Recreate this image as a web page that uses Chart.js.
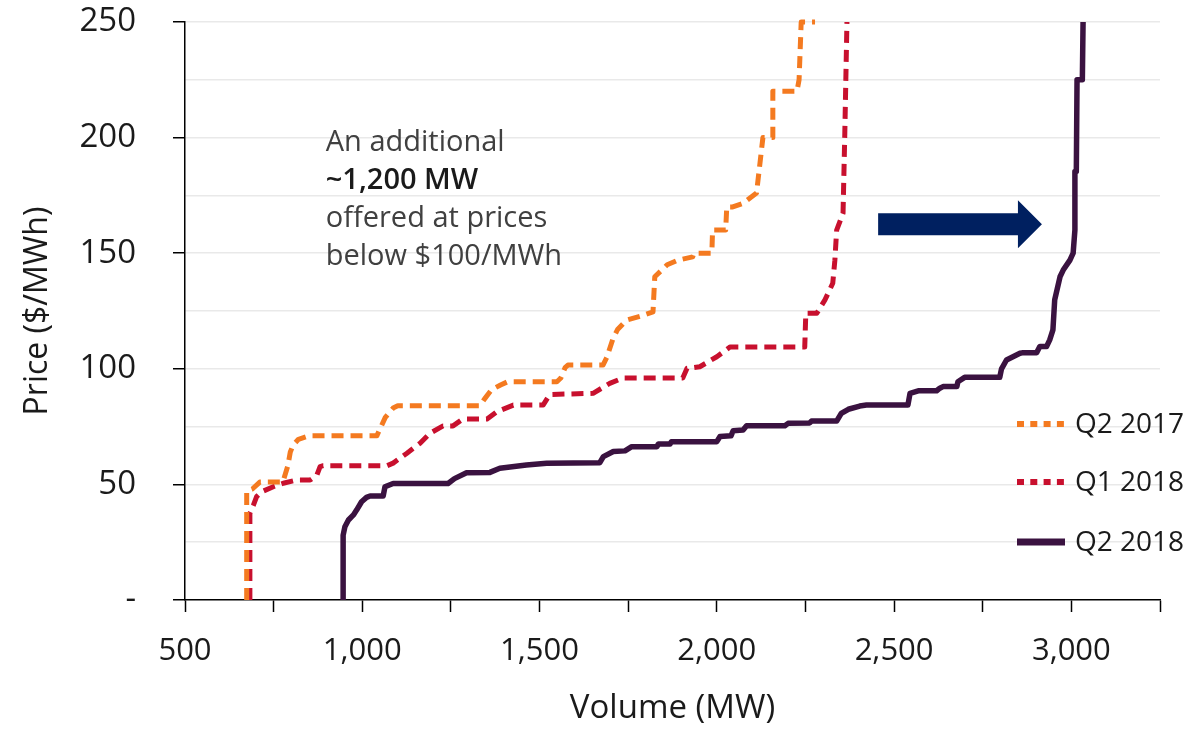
<!DOCTYPE html>
<html>
<head>
<meta charset="utf-8">
<script src="https://cdn.jsdelivr.net/npm/chart.js@4"></script>
<style>
  html, body { margin: 0; padding: 0; background: #fff; }
  canvas { display: block; }
</style>
</head>
<body>
<canvas id="offerChart" width="1203" height="729"></canvas>
<script>
// series labels
const seriesNames = ["Q2 2017", "Q1 2018", "Q2 2018"];

// Q2 2017 offer curve
const q2_2017_mw = [674, 674, 690, 711, 776, 790, 797, 805, 820, 850, 1041, 1050, 1065, 1087, 1100, 1332, 1345, 1365, 1390, 1410, 1549, 1560, 1572, 1580, 1679, 1690, 1707, 1720, 1745, 1790, 1820, 1825, 1860, 1890, 1932, 1935, 1986, 1988, 2025, 2028, 2045, 2074, 2112, 2130, 2158, 2158, 2226, 2232, 2238, 2277];
const q2_2017_price = [0, 47, 48, 51, 51, 58, 64, 67, 69.5, 71, 71, 74, 79, 83, 84, 84, 87, 91, 93, 94.4, 94.4, 96, 100.5, 101.6, 101.6, 105, 113, 117, 121, 123, 124.6, 139.8, 145, 147, 148.4, 150, 150, 160, 160, 170, 170, 171.6, 176, 200, 200, 220, 220, 225, 250, 250];

// Q1 2018 offer curve
const q1_2018_mw = [683, 683, 693, 702, 716, 749, 777, 815, 853, 872, 881, 890, 1070, 1087, 1125, 1163, 1191, 1228, 1256, 1284, 1352, 1379, 1426, 1510, 1529, 1651, 1698, 1735, 1904, 1916, 1952, 2000, 2037, 2248, 2251, 2282, 2305, 2327, 2333, 2338, 2356, 2361, 2367];
const q1_2018_price = [0, 37.5, 41, 44.7, 46.8, 49, 50.5, 51.9, 51.9, 54, 57.7, 58.1, 58.1, 59.2, 63.4, 67.8, 72.1, 75.3, 75.3, 78.3, 78.3, 81.4, 84.3, 84.3, 88.9, 89.4, 93.7, 96, 96, 100.2, 100.9, 105.2, 109.4, 109.4, 124, 124, 129.8, 137, 147, 160, 167.3, 202, 250];

// Q2 2018 offer curve
const q2_2018_mw = [946, 946, 951, 961, 975, 984, 998, 1012, 1022, 1059, 1064, 1087, 1242, 1260, 1294, 1360, 1388, 1463, 1520, 1670, 1680, 1708, 1741, 1760, 1831, 1835, 1868, 1872, 2000, 2009, 2040, 2046, 2074, 2084, 2192, 2201, 2262, 2267, 2338, 2351, 2371, 2403, 2422, 2539, 2545, 2568, 2620, 2629, 2638, 2677, 2680, 2699, 2798, 2803, 2817, 2855, 2861, 2902, 2911, 2930, 2939, 2948, 2953, 2968, 2977, 2996, 3005, 3010, 3010, 3014, 3016, 3031, 3033];
const q2_2018_price = [0, 28, 31.7, 34.6, 36.8, 38.9, 42.5, 44.4, 45, 45, 49, 50.4, 50.4, 52.5, 55, 55.2, 57, 58.4, 59.1, 59.4, 62, 64.2, 64.5, 66.3, 66.3, 67.5, 67.5, 68.5, 68.5, 70.7, 71, 73.2, 73.5, 75.4, 75.4, 76.4, 76.6, 77.4, 77.4, 80.7, 82.5, 83.9, 84.3, 84.3, 89.4, 90.5, 90.5, 91.6, 92.3, 92.3, 94.4, 96.3, 96.3, 100, 103.8, 106.7, 106.9, 106.9, 109.6, 109.6, 112.5, 116.8, 129.8, 139.8, 142.7, 147, 150, 160, 185.3, 185.3, 225, 225, 250];

// axis ranges / ticks
const volumeMin = 500, volumeMax = 3250, volumeStep = 250, volumeLabelStep = 500;
const priceMin = 0, priceMax = 250, priceStep = 25, priceLabelStep = 50;

// annotation
const noteLines = ["An additional", "~1,200 MW", "offered at prices", "below $100/MWh"];
const noteBoldLine = 1;
const noteAt = { mw: 897, price: 194 };
const arrowSpan = { fromMw: 2455, toMw: 2917, price: 162.5 };

const COLORS = ["#F47A20", "#C8102E", "#3A1240"];
const FONT = "'Open Sans', 'Noto Sans', sans-serif";

function toPoints(xs, ys) {
    return xs.map((x, i) => ({ x: x, y: ys[i] }));
}

const dashedStyle = {
    borderWidth: 5,
    borderDash: [12, 7],
    borderCapStyle: "butt",
    borderJoinStyle: "round",
    pointRadius: 0,
    tension: 0,
    fill: false,
    clip: 8
};

// text + arrow inside the plot
const notePlugin = {
    id: "notePlugin",
    afterDatasetsDraw(chart) {
        const { ctx, scales: { x, y } } = chart;
        ctx.save();

        // arrow
        const x0 = x.getPixelForValue(arrowSpan.fromMw);
        const x1 = x.getPixelForValue(arrowSpan.toMw);
        const yc = y.getPixelForValue(arrowSpan.price);
        const headLen = 24, bodyHalf = 11, headHalf = 24;
        ctx.fillStyle = "#002060";
        ctx.beginPath();
        ctx.moveTo(x0, yc - bodyHalf);
        ctx.lineTo(x1 - headLen, yc - bodyHalf);
        ctx.lineTo(x1 - headLen, yc - headHalf);
        ctx.lineTo(x1, yc);
        ctx.lineTo(x1 - headLen, yc + headHalf);
        ctx.lineTo(x1 - headLen, yc + bodyHalf);
        ctx.lineTo(x0, yc + bodyHalf);
        ctx.closePath();
        ctx.fill();

        // text block
        const tx = x.getPixelForValue(noteAt.mw);
        let ty = y.getPixelForValue(noteAt.price);
        ctx.textAlign = "left";
        ctx.textBaseline = "alphabetic";
        noteLines.forEach((line, i) => {
            if (i === noteBoldLine) {
                ctx.font = "600 29px " + FONT;
                ctx.fillStyle = "#1a1a1a";
            } else {
                ctx.font = "29px " + FONT;
                ctx.fillStyle = "#404040";
            }
            ctx.fillText(line, tx, ty);
            ty += 38;
        });
        ctx.restore();
    }
};

// legend drawn by hand (dotted samples like the original)
const legendPlugin = {
    id: "legendPlugin",
    afterDraw(chart) {
        const { ctx, chartArea } = chart;
        const sx = chartArea.right - 143;
        const rows = [chartArea.bottom - 176, chartArea.bottom - 118, chartArea.bottom - 58];
        ctx.save();
        chart.data.datasets.forEach((ds, i) => {
            const ry = rows[i];
            ctx.strokeStyle = ds.borderColor;
            ctx.lineCap = "butt";
            if (ds.borderDash && ds.borderDash.length) {
                ctx.lineWidth = 6;
                ctx.setLineDash([7, 6.3]);
            } else {
                ctx.lineWidth = 7;
                ctx.setLineDash([]);
            }
            ctx.beginPath();
            ctx.moveTo(sx, ry);
            ctx.lineTo(sx + 48, ry);
            ctx.stroke();
            ctx.setLineDash([]);
            ctx.fillStyle = "#1a1a1a";
            ctx.font = "28px " + FONT;
            ctx.textAlign = "left";
            ctx.textBaseline = "middle";
            ctx.fillText(ds.label, sx + 58, ry + 1);
        });
        ctx.restore();
    }
};

new Chart(document.getElementById("offerChart"), {
    type: "line",
    data: {
        datasets: [
            Object.assign({ label: seriesNames[0], data: toPoints(q2_2017_mw, q2_2017_price), borderColor: COLORS[0] }, dashedStyle),
            Object.assign({ label: seriesNames[1], data: toPoints(q1_2018_mw, q1_2018_price), borderColor: COLORS[1] }, dashedStyle),
            {
                label: seriesNames[2],
                data: toPoints(q2_2018_mw, q2_2018_price),
                borderColor: COLORS[2],
                borderWidth: 5.5,
                borderJoinStyle: "round",
                pointRadius: 0,
                tension: 0,
                fill: false,
                clip: 8
            }
        ]
    },
    options: {
        responsive: false,
        animation: false,
        devicePixelRatio: 1,
        layout: { padding: { top: 22, right: 43, left: 0, bottom: 0 } },
        plugins: {
            legend: { display: false },
            tooltip: { enabled: false }
        },
        scales: {
            x: {
                type: "linear",
                min: volumeMin,
                max: volumeMax,
                afterFit: (scale) => {
                    scale.height = 129;
                    scale.paddingLeft = 0;
                    scale.paddingRight = 0;
                },
                border: { display: true, color: "#000", width: 1.5 },
                grid: {
                    drawOnChartArea: false,
                    drawTicks: true,
                    tickLength: 12,
                    tickColor: "#000",
                    tickWidth: 1.5
                },
                ticks: {
                    stepSize: volumeStep,
                    autoSkip: false,
                    maxRotation: 0,
                    padding: 21,
                    color: "#1a1a1a",
                    font: { family: FONT, size: 31 },
                    callback: (v) => (v % volumeLabelStep === 0 ? v.toLocaleString("en-US") : "")
                },
                title: {
                    display: true,
                    text: "Volume (MW)",
                    color: "#1a1a1a",
                    font: { family: FONT, size: 33 },
                    padding: { top: 0, bottom: 1 }
                }
            },
            y: {
                min: priceMin,
                max: priceMax,
                afterFit: (scale) => {
                    scale.width = 185;
                    scale.paddingTop = 0;
                    scale.paddingBottom = 0;
                },
                border: { display: true, color: "#000", width: 1.5 },
                grid: {
                    color: (c) => (c.tick && c.tick.value === 0 ? "rgba(0,0,0,0)" : "#e9e9e9"),
                    lineWidth: 1.5,
                    tickLength: 12,
                    tickColor: (c) => (c.tick && c.tick.value % priceLabelStep === 0 ? "#000" : "rgba(0,0,0,0)"),
                    tickWidth: 1.5
                },
                ticks: {
                    stepSize: priceStep,
                    autoSkip: false,
                    padding: 37,
                    color: "#1a1a1a",
                    font: { family: FONT, size: 33 },
                    callback: (v) => (v % priceLabelStep !== 0 ? "" : (v === 0 ? "-" : String(v)))
                },
                title: {
                    display: true,
                    text: "Price ($/MWh)",
                    color: "#1a1a1a",
                    font: { family: FONT, size: 32 },
                    padding: { top: 19, bottom: 0 }
                }
            }
        }
    },
    plugins: [notePlugin, legendPlugin]
});
</script>
</body>
</html>
